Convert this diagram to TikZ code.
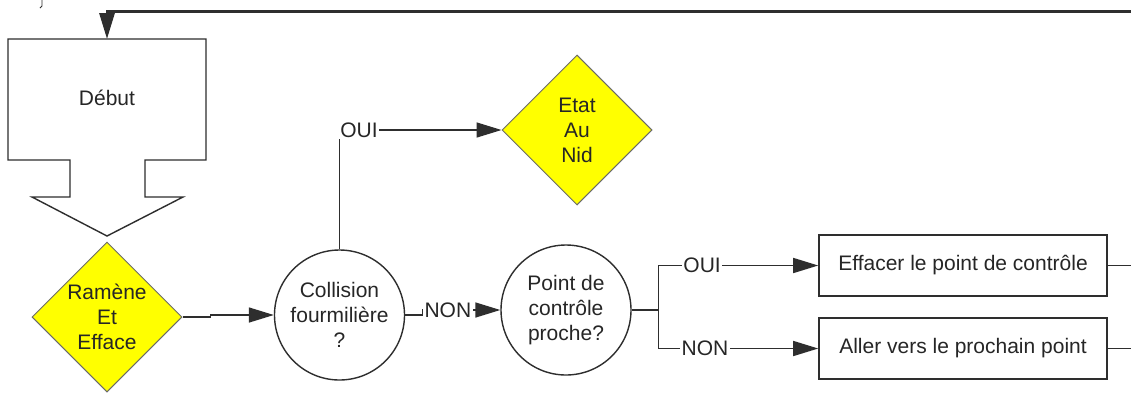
\documentclass[tikz,border=0pt]{standalone}
\usepackage{fontspec}
\setmainfont{Liberation Sans}
\usetikzlibrary{shapes.geometric,arrows.meta}
\definecolor{ink}{HTML}{2E2E2E}
\definecolor{txt}{HTML}{262626}
\definecolor{warn}{HTML}{FFFF00}
\definecolor{rim}{HTML}{6A6A6A}
\begin{document}
\begin{tikzpicture}[x=1pt,y=-1pt,
  font=\fontsize{21}{25}\selectfont, text=txt,
  wire/.style={draw=ink, line width=1.5pt},
  conn/.style={wire, -{Triangle[length=25pt,width=15pt]}},
  lbl/.style={fill=white, inner sep=1.5pt},
  decision/.style={diamond, aspect=1, fill=warn, draw=rim, line width=1pt,
    minimum width=150pt, minimum height=150pt, inner sep=0pt, align=center},
  test/.style={circle, draw=ink, line width=1.4pt, minimum size=130pt,
    inner sep=0pt, align=center, fill=white},
  action/.style={rectangle, draw=ink, line width=1.6pt, minimum width=288pt,
    minimum height=61pt, fill=white}
]
\useasboundingbox[fill=white] (0,0) rectangle (1131,392);

% small mark at the upper edge
\draw[ink, line width=0.8pt] (42,0) -- (42,6) -- (40,8);

% start block (off-page connector shape)
\draw[ink, line width=1.4pt, fill=white]
  (8,39) -- (206,39) -- (206,160) -- (145,160) -- (145,197) -- (183,197)
  -- (107,236) -- (32,197) -- (70,197) -- (70,160) -- (8,160) -- cycle;
\node (debut) at (107,98) {Début};
\coordinate (debuttop) at (107,39);

% decisions and tests
\node[decision] (ramene) at (107,317) {Ramène\\Et\\Efface};
\node[test] (coll) at (339.5,315) {Collision\\fourmilière\\?};
\node[decision] (nid) at (577,130) {Etat\\Au\\Nid};
\node[test] (point) at (566,310) {Point de\\contrôle\\proche?};

% actions
\node[action] (efface) at (963,265.5) {Effacer le point de contrôle};
\node[action] (aller) at (963,348.5) {Aller vers le prochain point};

% loose ends at the right border
\coordinate (ret) at (1131,11);
\coordinate (out1) at (1131,265.5);
\coordinate (out2) at (1131,348.5);

% connectors
\draw[conn] (ramene.east) -- ++(28,0) |- (coll.west);
\draw[conn] (coll.north) |- node[lbl, pos=0.56] {OUI} (nid.west);
\draw[conn] (coll.east) -- ++(18,0) |- node[lbl, pos=0.66] {NON} (point.west);
\draw[wire] (point.east) -- ++(27,0) coordinate (fork);
\draw[conn] (fork) |- node[lbl, pos=0.636] {OUI} (efface.west);
\draw[conn] (fork) |- node[lbl, pos=0.645] {NON} (aller.west);
\draw[wire] (efface.east) -- (out1);
\draw[wire] (aller.east) -- (out2);
\draw[draw=ink, line width=3pt, -{Triangle[length=26pt,width=15pt]}]
  (ret) -| (debuttop);
\end{tikzpicture}
\end{document}
